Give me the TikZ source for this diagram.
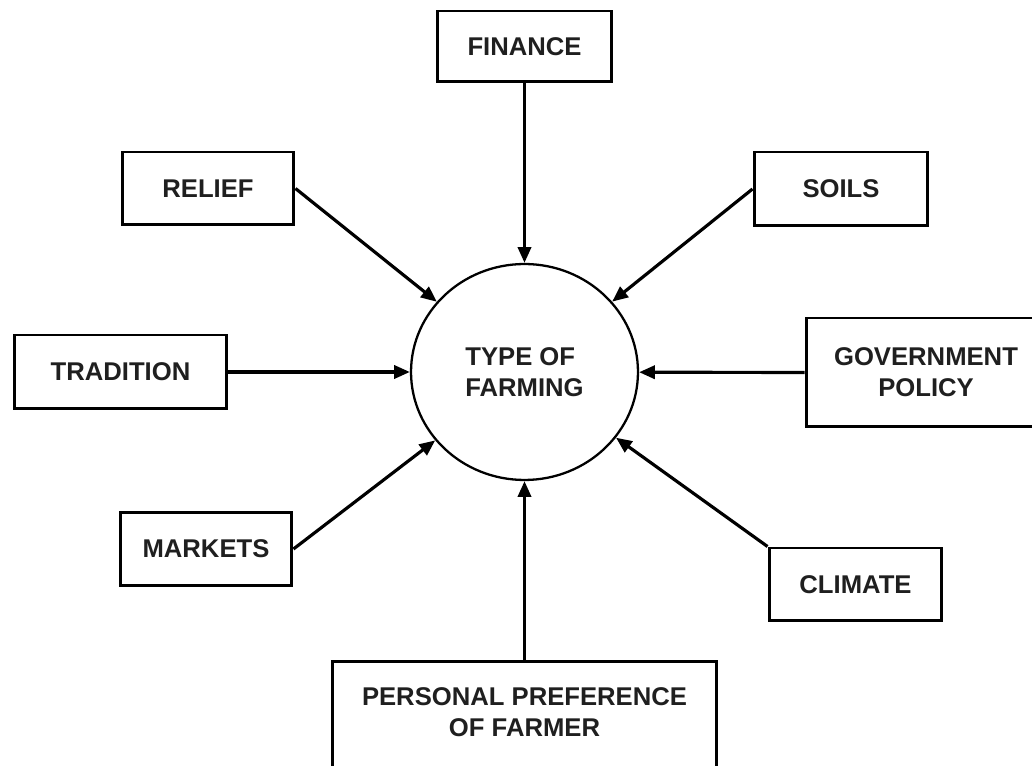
\documentclass[tikz,border=0pt]{standalone}
\usepackage{fontspec}
\setmainfont{Liberation Sans}
\usetikzlibrary{shapes.geometric,arrows.meta}
\begin{document}
\begin{tikzpicture}[x=0.02cm,y=-0.02cm,
  factor/.style={draw, line width=1.7pt, rectangle, inner sep=0pt,
    font=\fontsize{14.6pt}{17.6pt}\selectfont\bfseries, align=center, text=black!88},
  hub/.style={draw, line width=1.3pt, ellipse, inner sep=0pt,
    minimum width=4.54cm, minimum height=4.32cm,
    font=\fontsize{14.6pt}{17.6pt}\selectfont\bfseries, align=left, text=black!88},
  feed/.style={line width=1.8pt, -{Triangle[length=9pt,width=7.5pt]}}]
\useasboundingbox (0,0) rectangle (1032,766);

% central circle
\node[hub] (farm) at (524.5,372) {TYPE OF\\FARMING};

% surrounding factors
\node[factor, minimum width=3.5cm,  minimum height=1.42cm] (finance)   at (524.5,46.5) {FINANCE};
\node[factor, minimum width=3.44cm, minimum height=1.46cm] (relief)    at (208,188.5)  {RELIEF};
\node[factor, minimum width=3.48cm, minimum height=1.48cm] (soils)     at (841,189)    {SOILS};
\node[factor, minimum width=4.26cm, minimum height=1.48cm] (tradition) at (120.5,372)  {TRADITION};
\node[factor, minimum width=4.8cm,  minimum height=2.18cm] (govt)      at (926,372.5)  {GOVERNMENT\\POLICY};
\node[factor, minimum width=3.44cm, minimum height=1.46cm] (markets)   at (206,549)    {MARKETS};
\node[factor, minimum width=3.46cm, minimum height=1.46cm] (climate)   at (855.5,584.5){CLIMATE};
\node[factor, minimum width=7.7cm,  minimum height=2.98cm] (personal)  at (524.5,735.5){};
\node[factor, draw=none] (personaltext) at (524.5,712) {PERSONAL PREFERENCE\\OF FARMER};

% influences
\draw[feed] (finance.south)    -- (farm);
\draw[feed] (relief.east)      -- (farm);
\draw[feed] (soils.west)       -- (farm);
\draw[feed] (tradition.east)   -- (farm);
\draw[feed] (govt.west)        -- (farm);
\draw[feed] (markets.east)     -- (farm);
\draw[feed] (climate.north west) -- (farm);
\draw[feed] (personal.north)   -- (farm);
\end{tikzpicture}
\end{document}
